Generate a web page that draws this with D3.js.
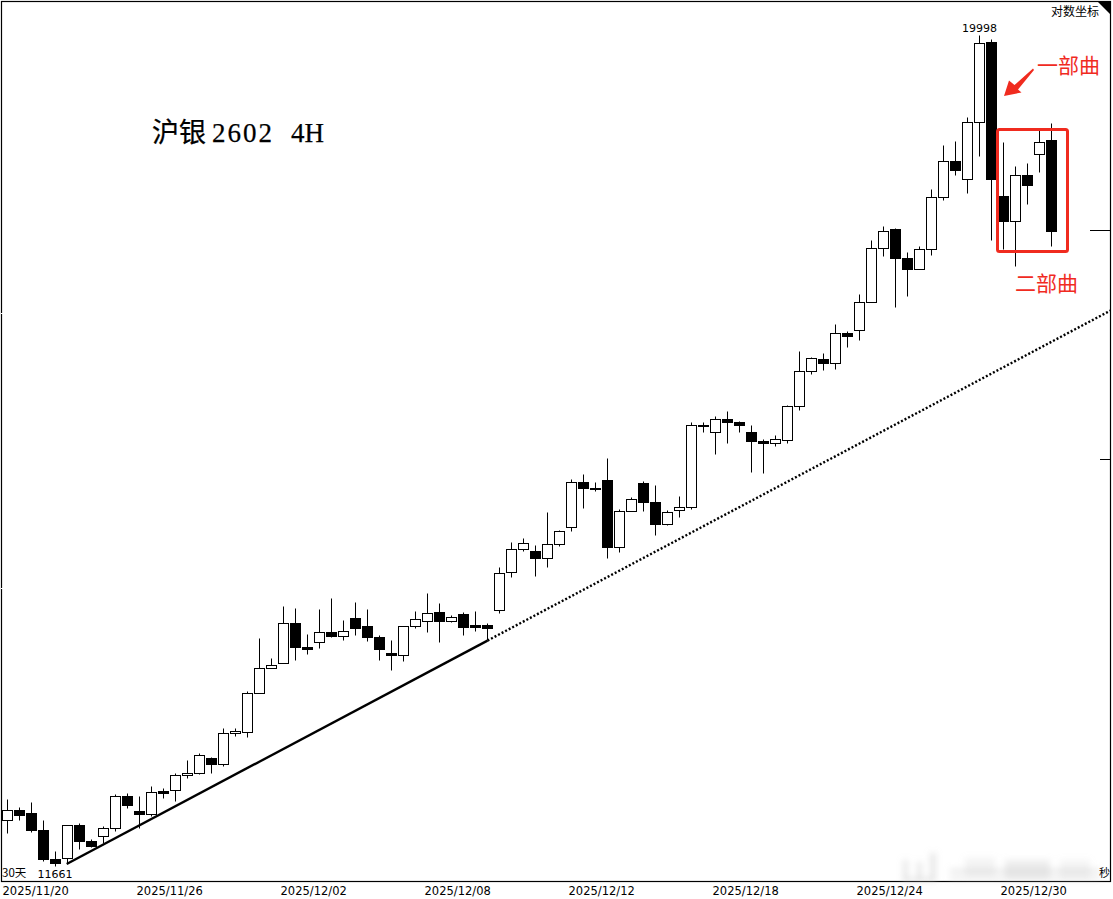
<!DOCTYPE html>
<html>
<head>
<meta charset="utf-8">
<script src="https://cdn.jsdelivr.net/npm/d3@7/dist/d3.min.js"></script>
<style>
html,body{margin:0;padding:0;background:#fff;}
svg{display:block;}
text{font-family:"DejaVu Sans",sans-serif;fill:#000;}
</style>
</head>
<body>
<svg id="c" width="1113" height="899"></svg>
<script>
const opens=[12017,12095,12071,11940,11716,11724,11978,11855,11894,11955,
12206,12087,12063,12241,12254,12373,12389,12510,12461,12716,
12724,13050,13258,13305,13655,13445,13489,13577,13542,13699,
13623,13533,13393,13372,13629,13673,13753,13673,13735,13632,
13632,13771,14115,14328,14309,14244,14375,14534,14965,14907,
14984,14347,14685,14955,14772,14558,14695,14724,15531,15454,
15588,15558,15458,15368,15349,15378,15721,16082,16208,16165,
16484,16512,16819,17419,17638,17309,17178,17408,18005,18430,
18217,18903,19903,18009,17726,18264,18510,18676];
const closes=[12095,12052,11937,11713,11683,11978,11852,11813,11955,12206,
12132,12060,12238,12225,12373,12389,12535,12461,12716,12732,
13050,13262,13288,13655,13442,13424,13577,13538,13585,13608,
13529,13424,13372,13629,13687,13744,13669,13708,13620,13620,
13608,14106,14328,14380,14244,14375,14496,14965,14903,14893,
14343,14685,14801,14768,14558,14672,14724,15528,15514,15588,
15558,15524,15365,15345,15384,15721,16082,16218,16161,16484,
16445,16819,17419,17612,17301,17178,17408,18005,18430,18318,
18903,19899,18212,17721,18264,18142,18660,17608];
const highs=[12177,12119,12153,12011,11773,11978,11988,11870,11967,12217,
12230,12206,12286,12264,12383,12488,12546,12519,12751,12757,
13061,13524,13349,13801,13783,13553,13774,13873,13676,13837,
13774,13544,13500,13629,13756,13925,13828,13726,13753,13762,
13655,14160,14394,14431,14359,14675,14506,14987,15042,14965,
15202,14704,14813,14968,14936,14695,14830,15558,15558,15621,
15673,15571,15528,15388,15428,15734,16293,16232,16271,16583,
16498,16900,17502,17672,17646,17366,17438,18091,18615,18664,
18967,19998,19941,18655,18373,18406,18809,18894];
const lows=[11914,12014,11921,11698,11661,11680,11788,11806,11834,11929,
12108,11955,12042,12187,12164,12346,12381,12386,12441,12688,
12680,13050,13258,13305,13328,13380,13433,13529,13503,13547,
13494,13328,13241,13319,13612,13573,13485,13661,13547,13582,
13503,13740,14066,14306,14075,14156,14352,14493,14710,14874,
14240,14296,14685,14681,14455,14549,14624,14701,15454,15235,
15345,15454,15061,15048,15315,15345,15683,16054,16088,16098,
16328,16406,16819,17332,16760,16881,17178,17343,17965,18259,
18048,18486,17506,17400,17211,17927,18294,17438];
const dateIndex=[0,11,23,35,47,59,71,83];
const dateLabels=["2025/11/20","2025/11/26","2025/12/02","2025/12/08","2025/12/12","2025/12/18","2025/12/24","2025/12/30"];
const trendIndex=[4.93,40,92];
const trendPrice=[11680,13503,16735];
const rightTicks=[15192,17616];
const leftTicks=[13964,16701];
const highLabel=19998, lowLabel=11661;

const svg=d3.select("#c");
const x=d3.scaleLinear().domain([0,87]).range([7.5,1051.5]);
const y=d3.scaleLog().domain([lowLabel,highLabel]).range([866.5,35.6]);
const py=v=>Math.round(y(v)-0.5)+0.5;
const bg=svg.append("defs");
bg.append("filter").attr("id","blur").attr("x","-30%").attr("y","-80%").attr("width","160%").attr("height","260%")
  .append("feGaussianBlur").attr("stdDeviation",3);
bg.append("clipPath").attr("id","plot").append("rect").attr("x",2).attr("y",2).attr("width",1108).attr("height",879);

const candles=d3.range(opens.length).map(i=>({i,o:opens[i],c:closes[i],h:highs[i],l:lows[i]}));

// trend line
const trend=d3.line().x(d=>x(d[0])).y(d=>y(d[1]));
const pts=trendIndex.map((v,i)=>[v,trendPrice[i]]);
const plot=svg.append("g").attr("clip-path","url(#plot)");
plot.append("path").attr("d",trend(pts.slice(0,2))).attr("fill","none").attr("stroke","#000").attr("stroke-width",2.4);
plot.append("path").attr("d",trend(pts.slice(1))).attr("fill","none").attr("stroke","#000").attr("stroke-width",2.4).attr("stroke-dasharray","2 2");

// candles
const g=plot.selectAll("g.k").data(candles).join("g").attr("class","k");
g.append("line").attr("x1",d=>x(d.i)).attr("x2",d=>x(d.i)).attr("y1",d=>py(d.h)).attr("y2",d=>py(d.l))
  .attr("stroke","#000").attr("stroke-width",1);
g.append("rect")
  .attr("x",d=>x(d.i)-5).attr("width",10)
  .attr("y",d=>py(Math.max(d.o,d.c)))
  .attr("height",d=>Math.max(1,py(Math.min(d.o,d.c))-py(Math.max(d.o,d.c))))
  .attr("fill",d=>d.c>=d.o?"#fff":"#000").attr("stroke","#000").attr("stroke-width",1);

// frame
svg.append("rect").attr("x",1.5).attr("y",1.5).attr("width",1109).attr("height",880).attr("fill","none").attr("stroke","#000").attr("stroke-width",1.2);
svg.append("path").attr("d","M1098,2L1110,2L1110,14Z").attr("fill","#000");
svg.selectAll("line.rt").data(rightTicks).join("line").attr("class","rt")
  .attr("x1",(d,i)=>i===0?1100:1090).attr("x2",1110).attr("y1",d=>py(d)).attr("y2",d=>py(d)).attr("stroke","#000");
svg.selectAll("line.lt").data(leftTicks).join("line").attr("class","lt")
  .attr("x1",1).attr("x2",3).attr("y1",d=>py(d)).attr("y2",d=>py(d)).attr("stroke","#fff");

// date axis
const axis=d3.axisBottom(x).tickValues(dateIndex).tickSize(0).tickFormat((d,i)=>dateLabels[i]);
const ax=svg.append("g").attr("transform","translate(0,882)").call(axis);
ax.select(".domain").remove();
ax.selectAll("text").attr("text-anchor","start").attr("dx",(d,i)=>i===0?-5.5:-3.5).attr("y",5).attr("dy","0.71em")
  .style("font-family",'"DejaVu Sans",sans-serif').style("font-size","11.5px").attr("fill","#000");

// labels
svg.append("text").attr("x",x(81)).attr("y",py(highLabel)-4).attr("text-anchor","middle").attr("font-size",11).text(highLabel);
svg.append("text").attr("x",55).attr("y",878).attr("text-anchor","middle").attr("font-size",11).text(lowLabel);
svg.append("text").attr("x",2).attr("y",877).attr("font-size",11.5).style("font-family",'"Noto Sans CJK SC"').text("30天");
svg.append("text").attr("x",1051).attr("y",16).attr("font-size",12).style("font-family",'"Noto Sans CJK SC"').text("对数坐标");

// title
const t=svg.append("text").attr("x",152).attr("y",142).attr("font-size",27).style("font-family",'"Liberation Serif","Noto Sans CJK SC"').attr("stroke","#000").attr("stroke-width",0.25);
t.append("tspan").style("font-family",'"Noto Sans CJK SC"').text("沪银");
t.append("tspan").attr("x",212).attr("letter-spacing",2).text("2602");
t.append("tspan").attr("x",291).text("4H");

// annotation
const red="#f02b1f";
svg.append("rect").attr("x",997.5).attr("y",129.5).attr("width",70).attr("height",122).attr("rx",2).attr("fill","none").attr("stroke",red).attr("stroke-width",3);
svg.append("path").attr("d","M1004,96L1009,80.5L1014.5,85L1033,68.5L1034,70L1018,89.5L1021.5,92.5Z").attr("fill",red);
svg.append("text").attr("x",1037).attr("y",73).attr("font-size",21).style("font-family",'"Noto Sans CJK SC"').style("fill",red).text("一部曲");
svg.append("text").attr("x",1015).attr("y",291).attr("font-size",21).style("font-family",'"Noto Sans CJK SC"').style("fill",red).text("二部曲");

// blurred watermark remnant at the lower right
const wm=svg.append("g").attr("filter","url(#blur)").attr("fill","#c4c4c4");
[[903,860,5,20,.4],[917,862,5,18,.4],[930,853,6,28,.4],[950,869,150,4,.4],[950,877,150,3,.4],
 [965,858,30,18,.2],[1005,860,45,18,.3],[1060,860,30,18,.18],[903,878,30,3,.5]]
 .forEach(r=>wm.append("rect").attr("x",r[0]).attr("y",r[1]).attr("width",r[2]).attr("height",r[3]).attr("opacity",r[4]));
svg.append("text").attr("x",1099).attr("y",877).attr("font-size",11).style("font-family",'"Noto Sans CJK SC"').attr("clip-path","url(#plot)").text("秒");
</script>
</body>
</html>
